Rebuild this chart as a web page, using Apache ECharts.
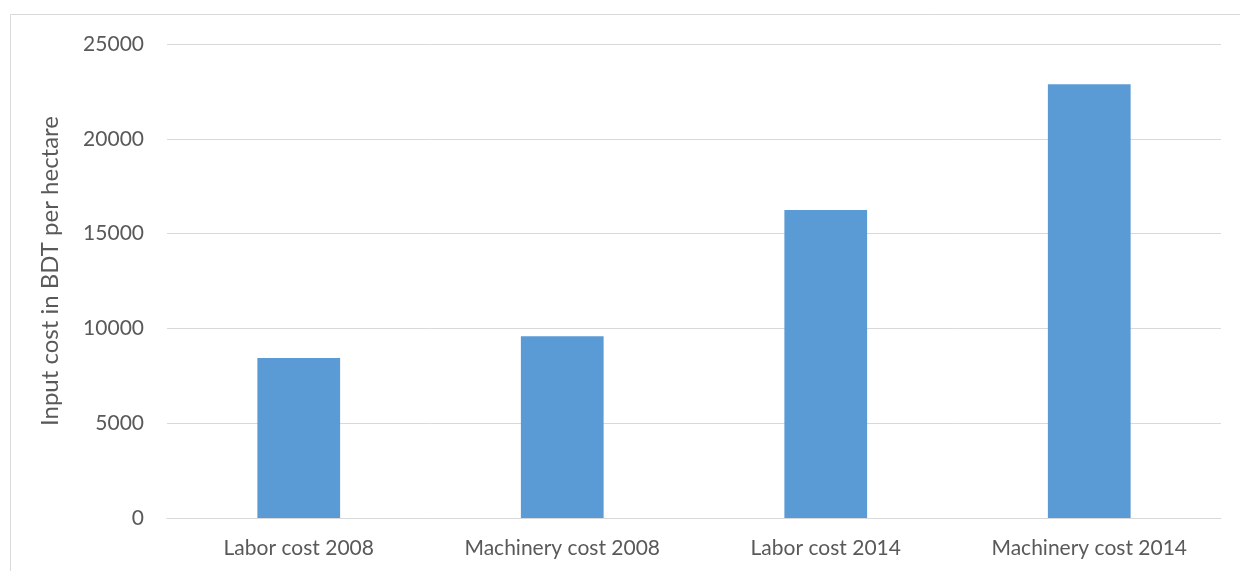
<!DOCTYPE html>
<html>
<head>
<meta charset="utf-8">
<style>
  html, body { margin: 0; padding: 0; background: #ffffff; }
  #chart { width: 1240px; height: 571px; }
</style>
<script src="https://cdn.jsdelivr.net/npm/echarts@6/dist/echarts.min.js"></script>
</head>
<body>
<div id="chart"></div>
<script>
// Input cost per hectare (BDT)
const categories = ['Labor cost 2008', 'Machinery cost 2008', 'Labor cost 2014', 'Machinery cost 2014'];
const costValues = [8440, 9580, 16250, 22880];
const yTicks = [0, 5000, 10000, 15000, 20000, 25000];

const FONT = 'Lato, "Open Sans", sans-serif';
const TEXT = '#595959';
const GRID = '#d9d9d9';

const chart = echarts.init(document.getElementById('chart'), null, { renderer: 'canvas' });

chart.setOption({
  animation: false,
  backgroundColor: '#ffffff',
  graphic: [{
    type: 'rect',
    shape: { x: 10.5, y: 14.5, width: 1260, height: 600 },
    style: { fill: 'none', stroke: GRID, lineWidth: 1 },
    silent: true
  }],
  grid: { left: 167, right: 19, top: 44, bottom: 53, containLabel: false },
  xAxis: {
    type: 'category',
    data: categories,
    axisLine: { show: true, lineStyle: { color: GRID, width: 1 } },
    axisTick: { show: false },
    axisLabel: { color: TEXT, fontFamily: FONT, fontSize: 21, margin: 20 }
  },
  yAxis: {
    type: 'value',
    min: yTicks[0],
    max: yTicks[yTicks.length - 1],
    interval: 5000,
    name: 'Input cost in BDT per hectare',
    nameLocation: 'middle',
    nameGap: 105,
    nameTextStyle: { color: TEXT, fontFamily: FONT, fontSize: 24, padding: [0, 0, 0, 20] },
    axisLine: { show: false },
    axisTick: { show: false },
    axisLabel: {
      color: TEXT, fontFamily: FONT, fontSize: 21, margin: 23,
      formatter: (v) => String(v)
    },
    splitLine: { lineStyle: { color: GRID, width: 1 } }
  },
  series: [{
    type: 'bar',
    data: costValues,
    barWidth: '31.4%',
    itemStyle: { color: '#5b9bd5' }
  }]
});
</script>
</body>
</html>
